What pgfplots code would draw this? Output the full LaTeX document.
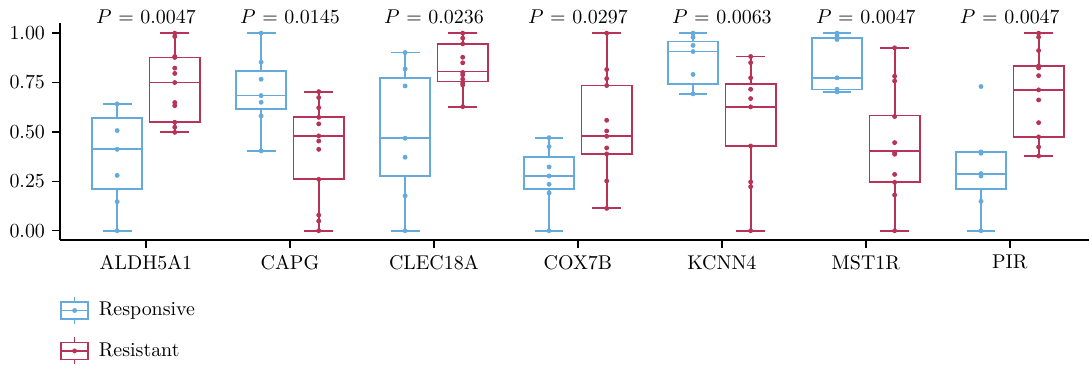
\documentclass[border=0pt]{standalone}
\usepackage{pgfplots}
\pgfplotsset{compat=1.18}
\usepgfplotslibrary{statistics}
\definecolor{resp}{RGB}{100,170,220}
\definecolor{resi}{RGB}{183,52,88}
\newcommand{\bp}[7]{\addplot[#7, line width=0.9pt, forget plot, solid, mark=none, boxplot prepared={draw direction=y, draw position=#1, lower whisker=#2, lower quartile=#3, median=#4, upper quartile=#5, upper whisker=#6, box extend=0.35, whisker extend=0.2}] coordinates {};}
\begin{document}
\begin{tikzpicture}
\useasboundingbox (-30bp,-66bp) rectangle (514.5bp,120bp);
\begin{axis}[
  scale only axis, width=514.5bp, height=108.35bp,
  at={(0,0)}, anchor=south west,
  xmin=-0.597, xmax=6.55, ymin=-0.047, ymax=1.05,
  axis lines=left, axis line style={-, line width=0.7pt},
  tick align=outside, major tick length=4bp,
  tick style={black, line width=0.7pt},
  xtick={0,...,6},
  xticklabels={ALDH5A1,CAPG,CLEC18A,COX7B,KCNN4,MST1R,PIR},
  ytick={0,0.25,0.5,0.75,1},
  yticklabel style={/pgf/number format/.cd, fixed, fixed zerofill, precision=2},
  clip=false,
  boxplot/draw direction=y,
  legend style={at={(rel axis cs:0,-0.258)}, anchor=north west, draw=none, inner sep=0pt, row sep=6bp, legend cell align=left, font=\normalsize, /tikz/every odd column/.append style={column sep=3bp}},
  legend image code/.code={
    \draw[#1, line width=0.7pt] (0bp,-4.25bp) rectangle (13.5bp,4.25bp);
    \draw[#1, line width=0.7pt] (6.75bp,4.25bp) -- (6.75bp,6.75bp);
    \draw[#1, line width=0.7pt] (6.75bp,-4.25bp) -- (6.75bp,-6.75bp);
    \draw[#1, line width=0.7pt] (0bp,0bp) -- (13.5bp,0bp);
    \fill[#1] (6.75bp,0bp) circle (1bp);
  },
]
\addlegendimage{resp}
\addlegendentry{Responsive}
\addlegendimage{resi}
\addlegendentry{Resistant}

% ALDH5A1
\bp{-0.2}{0}{0.213}{0.412}{0.571}{0.642}{resp}
\bp{0.2}{0.498}{0.549}{0.75}{0.877}{1.0}{resi}
% CAPG
\bp{0.8}{0.404}{0.617}{0.684}{0.809}{1.0}{resp}
\bp{1.2}{0}{0.26}{0.48}{0.574}{0.704}{resi}
% CLEC18A
\bp{1.8}{0}{0.275}{0.468}{0.775}{0.902}{resp}
\bp{2.2}{0.628}{0.755}{0.806}{0.946}{1.0}{resi}
% COX7B
\bp{2.8}{0}{0.213}{0.277}{0.373}{0.471}{resp}
\bp{3.2}{0.113}{0.389}{0.478}{0.735}{1.0}{resi}
% KCNN4
\bp{3.8}{0.693}{0.743}{0.907}{0.958}{1.0}{resp}
\bp{4.2}{0}{0.429}{0.628}{0.742}{0.882}{resi}
% MST1R
\bp{4.8}{0.703}{0.715}{0.774}{0.976}{1.0}{resp}
\bp{5.2}{0}{0.245}{0.404}{0.583}{0.926}{resi}
% PIR
\bp{5.8}{0}{0.211}{0.289}{0.399}{0.399}{resp}
\bp{6.2}{0.378}{0.475}{0.713}{0.834}{1.0}{resi}

\addplot[only marks, mark=*, mark size=1bp, resp, forget plot] coordinates {
(-0.2,0.642) (-0.2,0.507) (-0.2,0.412) (-0.2,0.280) (-0.2,0.147) (-0.2,0)
(0.8,1.0) (0.8,0.853) (0.8,0.767) (0.8,0.684) (0.8,0.650) (0.8,0.581) (0.8,0.404)
(1.8,0.902) (1.8,0.819) (1.8,0.733) (1.8,0.468) (1.8,0.372) (1.8,0.177) (1.8,0)
(2.8,0.471) (2.8,0.426) (2.8,0.323) (2.8,0.277) (2.8,0.235) (2.8,0.191) (2.8,0)
(3.8,1.0) (3.8,0.980) (3.8,0.938) (3.8,0.907) (3.8,0.791) (3.8,0.693)
(4.8,1.0) (4.8,0.988) (4.8,0.978) (4.8,0.968) (4.8,0.774) (4.8,0.716) (4.8,0.703)
(5.8,0.730) (5.8,0.399) (5.8,0.392) (5.8,0.289) (5.8,0.277) (5.8,0.149) (5.8,0)
};
\addplot[only marks, mark=*, mark size=1bp, resi, forget plot] coordinates {
(0.2,1.0) (0.2,0.983) (0.2,0.882) (0.2,0.877) (0.2,0.823) (0.2,0.796) (0.2,0.75) (0.2,0.649) (0.2,0.633) (0.2,0.549) (0.2,0.524) (0.2,0.498)
(1.2,0.704) (1.2,0.674) (1.2,0.623) (1.2,0.574) (1.2,0.541) (1.2,0.480) (1.2,0.454) (1.2,0.412) (1.2,0.26) (1.2,0.079) (1.2,0.049) (1.2,0)
(2.2,1.0) (2.2,0.975) (2.2,0.946) (2.2,0.878) (2.2,0.850) (2.2,0.801) (2.2,0.789) (2.2,0.767) (2.2,0.747) (2.2,0.738) (2.2,0.628)
(3.2,1.0) (3.2,0.816) (3.2,0.770) (3.2,0.735) (3.2,0.559) (3.2,0.505) (3.2,0.478) (3.2,0.419) (3.2,0.389) (3.2,0.252) (3.2,0.113)
(4.2,0.882) (4.2,0.851) (4.2,0.774) (4.2,0.716) (4.2,0.669) (4.2,0.627) (4.2,0.429) (4.2,0.247) (4.2,0.223) (4.2,0)
(5.2,0.926) (5.2,0.782) (5.2,0.758) (5.2,0.578) (5.2,0.446) (5.2,0.395) (5.2,0.387) (5.2,0.285) (5.2,0.245) (5.2,0.181) (5.2,0)
(6.2,1.0) (6.2,0.980) (6.2,0.912) (6.2,0.834) (6.2,0.824) (6.2,0.785) (6.2,0.713) (6.2,0.662) (6.2,0.547) (6.2,0.475) (6.2,0.424) (6.2,0.378)
};

\node at (axis cs:0,1.083) {$P$ = 0.0047};
\node at (axis cs:1,1.083) {$P$ = 0.0145};
\node at (axis cs:2,1.083) {$P$ = 0.0236};
\node at (axis cs:3,1.083) {$P$ = 0.0297};
\node at (axis cs:4,1.083) {$P$ = 0.0063};
\node at (axis cs:5,1.083) {$P$ = 0.0047};
\node at (axis cs:6,1.083) {$P$ = 0.0047};
\end{axis}
\end{tikzpicture}
\end{document}
